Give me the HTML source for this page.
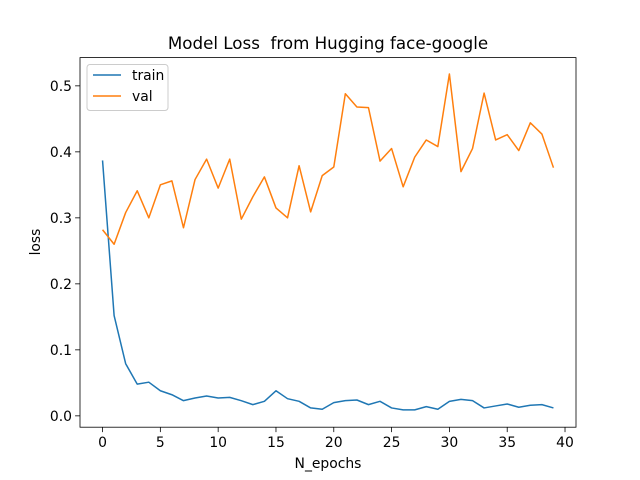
<!DOCTYPE html>
<html><head><meta charset="utf-8"><style>
body{margin:0;background:#fff;}
svg{display:block;font-family:"DejaVu Sans","Liberation Sans",sans-serif;}
</style></head><body>
<svg id="chart" width="640" height="480" viewBox="0 0 640 480">
<rect width="640" height="480" fill="#fff"/>
<text x="328" y="49" font-size="16.7" text-anchor="middle" style="white-space:pre" xml:space="preserve">Model Loss  from Hugging face-google</text>
<g id="plot"></g>
<rect x="80" y="57.6" width="496" height="369.6" fill="none" stroke="#000" stroke-width="0.8"/>
<text x="328" y="468" font-size="13.9" text-anchor="middle">N_epochs</text>
<text transform="translate(40,242) rotate(-90)" font-size="13.9" text-anchor="middle">loss</text>
<g>
<rect x="87" y="64.5" width="81" height="46" rx="3" fill="#fff" fill-opacity="0.8" stroke="#ccc"/>
<line x1="93" y1="75" x2="121" y2="75" stroke="#1f77b4" stroke-width="1.5"/>
<text x="132" y="80" font-size="13.9">train</text>
<line x1="93" y1="96" x2="121" y2="96" stroke="#ff7f0e" stroke-width="1.5"/>
<text x="132" y="101" font-size="13.9">val</text>
</g>
</svg>
<script>
const epochs = Array.from({length:40},(_,i)=>i);
const trainLoss = [0.387,0.152,0.079,0.048,0.051,0.038,0.032,0.023,0.027,0.030,0.027,0.028,0.023,0.017,0.022,0.038,0.026,0.022,0.012,0.010,0.020,0.023,0.024,0.017,0.022,0.012,0.009,0.009,0.014,0.010,0.022,0.025,0.023,0.012,0.015,0.018,0.013,0.016,0.017,0.012];
const valLoss = [0.282,0.260,0.308,0.341,0.300,0.350,0.356,0.285,0.358,0.389,0.345,0.389,0.298,0.332,0.362,0.315,0.300,0.379,0.309,0.364,0.377,0.488,0.468,0.467,0.386,0.405,0.347,0.392,0.418,0.408,0.518,0.370,0.405,0.489,0.418,0.426,0.402,0.444,0.427,0.376];
const xTicks = [0,5,10,15,20,25,30,35,40];
const yTicks = [0.0,0.1,0.2,0.3,0.4,0.5];
const NS="http://www.w3.org/2000/svg";
const L=80,R=576,T=57.6,B=427.2;
const xmin=-1.95,xmax=40.95,ymin=-0.0172,ymax=0.5428;
const X=v=>L+(v-xmin)/(xmax-xmin)*(R-L);
const Y=v=>B-(v-ymin)/(ymax-ymin)*(B-T);
const g=document.getElementById('plot');
function mk(t,a){const e=document.createElementNS(NS,t);for(const k in a)e.setAttribute(k,a[k]);g.appendChild(e);return e;}
xTicks.forEach(t=>{
  const l=mk('line',{x1:X(t),x2:X(t),y1:B,y2:B+4.9,stroke:'#000','stroke-width':0.8});
  
  
  const s=mk('text',{x:X(t),y:B+20,'font-size':13.9,'text-anchor':'middle'});
  s.textContent=t;
  
  
});
yTicks.forEach(t=>{
  const l=mk('line',{x1:L-4.9,x2:L,y1:Y(t),y2:Y(t),stroke:'#000','stroke-width':0.8});
  
  
  const s=mk('text',{x:L-8,y:Y(t)+5,'font-size':13.9,'text-anchor':'end'});
  s.textContent=t.toFixed(1);
  
  
});
function line(data,color,name){
  const p=mk('polyline',{points:data.map((v,i)=>X(epochs[i])+','+Y(v)).join(' '),fill:'none',stroke:color,'stroke-width':1.5,'stroke-linejoin':'round'});
  
  
}
line(trainLoss,'#1f77b4','train-line');
line(valLoss,'#ff7f0e','val-line');
</script>
</body></html>
